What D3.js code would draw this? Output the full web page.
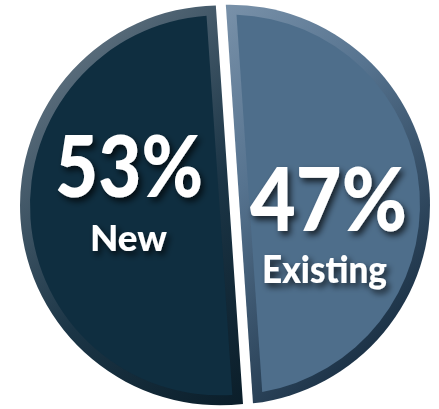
<!DOCTYPE html>
<html>
<head>
<meta charset="utf-8">
<script src="https://cdn.jsdelivr.net/npm/d3@7"></script>
<style>
  html, body { margin: 0; padding: 0; background: #ffffff; }
  svg { display: block; }
</style>
</head>
<body>
<svg id="chart" width="439" height="409"></svg>
<script>
// ---- data ----
const categories = ["New", "Existing"];
const values = [53, 47];
const valueLabels = ["53%", "47%"];

// ---- layout ----
const W = 439, H = 409;
const cx = 225, cy = 205, R = 200;
const explode = 5;      // half gap
const bevel = 10;       // rim width
const tiltDeg = 86.1;   // direction (clockwise from top) of the Existing side normal

const svg = d3.select("#chart");
const defs = svg.append("defs");

// drop shadow for labels
const f = defs.append("filter").attr("id", "shadow")
  .attr("x", "-20%").attr("y", "-20%").attr("width", "150%").attr("height", "150%");
f.append("feDropShadow").attr("dx", 3).attr("dy", 4).attr("stdDeviation", 3.2)
  .attr("flood-color", "#000").attr("flood-opacity", 0.7);

// bevel gradients (light top-left, dark bottom-right)
function grad(id, stops) {
  const g = defs.append("linearGradient").attr("id", id)
    .attr("gradientUnits", "userSpaceOnUse")
    .attr("x1", cx - R * 0.75).attr("y1", cy - R * 0.75)
    .attr("x2", cx + R * 0.75).attr("y2", cy + R * 0.75);
  stops.forEach(s => g.append("stop").attr("offset", s[0]).attr("stop-color", s[1]));
}
grad("bevNew", [[0, "#5a6d7c"], [0.45, "#1b3546"], [1, "#051620"]]);
grad("bevExist", [[0, "#8aa0b6"], [0.5, "#56738f"], [1, "#1a3044"]]);

const fills = ["#0f2e40", "#4e6e8b"];
const bevels = ["url(#bevNew)", "url(#bevExist)"];

// ---- geometry: the circle is split by a chord so that the areas match the values ----
const total = d3.sum(values);
const fracExist = values[1] / total;
// solve (theta - sin theta) / (2 pi) = fracExist
let lo = 0, hi = 2 * Math.PI;
for (let i = 0; i < 60; i++) {
  const mid = (lo + hi) / 2;
  if ((mid - Math.sin(mid)) / (2 * Math.PI) < fracExist) lo = mid; else hi = mid;
}
const theta = (lo + hi) / 2;
const dChord = R * Math.cos(theta / 2);         // chord distance from centre (towards Existing)
const phi = tiltDeg * Math.PI / 180;
const n = [Math.sin(phi), -Math.cos(phi)];       // unit normal towards Existing

const angle = d3.scaleLinear().domain([0, 1]).range([-Math.PI / 2, 1.5 * Math.PI]); // turn fraction -> d3.path angle

// segment path: circle radius r, halfplane at distance dd from centre
// side = +1 -> Existing (p.n >= dd), side = -1 -> New (p.n <= dd)
function segPath(ox, oy, r, dd, side) {
  const a = Math.acos(Math.max(-1, Math.min(1, dd / r)));
  const p = d3.path();
  let a0, a1;
  if (side > 0) { a0 = phi - a; a1 = phi + a; }
  else { a0 = phi + a; a1 = phi - a + 2 * Math.PI; }
  const t0 = angle(a0 / (2 * Math.PI)), t1 = angle(a1 / (2 * Math.PI));
  p.moveTo(ox + r * Math.cos(t0), oy + r * Math.sin(t0));
  p.arc(ox, oy, r, t0, t1, false);
  p.closePath();
  return p.toString();
}

const slices = categories.map((c, i) => ({
  name: c, value: values[i], label: valueLabels[i],
  side: i === 1 ? 1 : -1
}));

const g = svg.append("g");
slices.forEach((s, i) => {
  const ox = cx + s.side * explode * n[0];
  const oy = cy + s.side * explode * n[1];
  g.append("path").attr("d", segPath(ox, oy, R, dChord, s.side)).attr("fill", bevels[i]);
  const dIn = dChord + s.side * bevel;
  g.append("path").attr("d", segPath(ox, oy, R - bevel, dIn, s.side)).attr("fill", fills[i]);
});

// ---- labels ----
const labelPos = [
  { vx: 129, vy: 197, vs: 86, vw: 148, nx: 128.5, ny: 251, ns: 36, nw: 77 },
  { vx: 328.5, vy: 231, vs: 87, vw: 157, nx: 324.5, ny: 283, ns: 37, nw: 125 }
];
const tg = svg.append("g")
  .attr("font-family", "Lato, 'Open Sans', sans-serif")
  .attr("font-weight", 900)
  .attr("fill", "#ffffff")
  .attr("text-anchor", "middle")
  .attr("filter", "url(#shadow)");

slices.forEach((s, i) => {
  const L = labelPos[i];
  tg.append("text").attr("x", L.vx).attr("y", L.vy).attr("font-size", L.vs)
    .attr("textLength", L.vw).attr("lengthAdjust", "spacingAndGlyphs").text(s.label);
  tg.append("text").attr("x", L.nx).attr("y", L.ny).attr("font-size", L.ns)
    .attr("textLength", L.nw).attr("lengthAdjust", "spacingAndGlyphs").text(s.name);
});
</script>
</body>
</html>
